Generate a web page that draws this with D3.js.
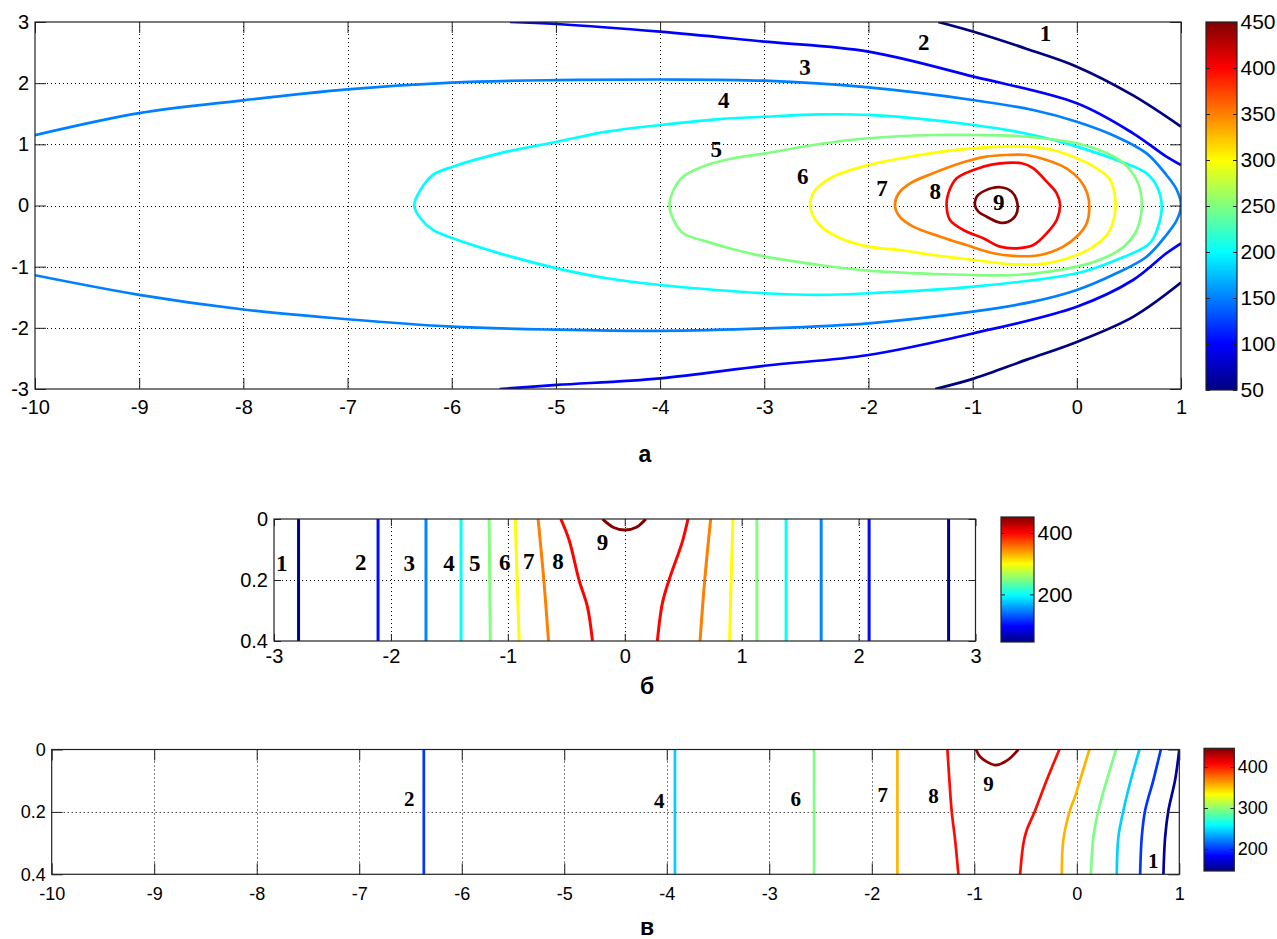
<!DOCTYPE html>
<html lang="ru">
<head>
<meta charset="UTF-8">
<script src="https://cdn.jsdelivr.net/npm/d3@7"></script>
<title>contours</title>
<style>
  body { margin: 0; background: #fff; }
  text { font-family: "Liberation Sans", Arial, sans-serif; fill: #000; }
  .num { font-family: "Liberation Serif", "Times New Roman", serif; font-weight: bold; }
  .ttl { font-weight: bold; }
</style>
</head>
<body>
<script>
// ---------- panel а : plane view, x -10..1, y -3..3 ----------
const aXTicks = [-10, -9, -8, -7, -6, -5, -4, -3, -2, -1, 0, 1];
const aYTicks = [-3, -2, -1, 0, 1, 2, 3];
const aLevels = [50, 100, 150, 200, 250, 300, 350, 400, 450];
const aCbTicks = [50, 100, 150, 200, 250, 300, 350, 400, 450];
// contour lines, [x, y]; each level may have several branches
const a1 = [
  [[-1.33, 3], [-0.99, 2.84], [-0.48, 2.56], [0, 2.27], [0.54, 1.8], [1, 1.29]],
  [[1, -1.26], [0.54, -1.82], [0, -2.23], [-0.48, -2.52], [-0.99, -2.83], [-1.36, -3]]
];
const a2 = [
  [[-5.44, 3], [-4.99, 2.967], [-4.0, 2.842], [-2.99, 2.678], [-2.0, 2.515], [-0.99, 2.106],
   [0, 1.671], [0.54, 1.18], [0.86, 0.798], [1, 0.662]],
  [[1, -0.618], [0.86, -0.781], [0.54, -1.218], [0, -1.654], [-0.99, -2.089], [-2.0, -2.444],
   [-3.0, -2.62], [-4.0, -2.825], [-4.99, -2.934], [-5.54, -3]]
];
const a3 = [
  [[-10, 1.15], [-9, 1.51], [-8, 1.72], [-7, 1.9], [-6, 2.01], [-5, 2.05], [-4, 2.06], [-3, 2.04], [-2.0, 1.93],
   [-1.0, 1.725], [-0.42, 1.561], [0, 1.37], [0.38, 1.125], [0.67, 0.853], [0.86, 0.499], [0.96, 0.254], [1, 0],
   [0.96, -0.237], [0.86, -0.482], [0.67, -0.837], [0.38, -1.108], [0, -1.381], [-0.42, -1.572], [-1.0, -1.736],
   [-2.0, -1.926], [-3, -2.01], [-4, -2.05], [-5, -2.03], [-6, -1.98], [-7, -1.86], [-8, -1.7], [-9, -1.46], [-10, -1.14]]
];
const a4 = [
  [[-6.36, 0], [-6.3, 0.254], [-6.18, 0.5], [-5.99, 0.635], [-5.54, 0.853], [-4.99, 1.043], [-4.51, 1.207],
   [-4.0, 1.316], [-3.46, 1.409], [-2.99, 1.452], [-2.47, 1.49], [-2.0, 1.48], [-0.99, 1.316], [-0.42, 1.153],
   [0, 0.962], [0.38, 0.744], [0.67, 0.526], [0.77, 0.308], [0.815, 0], [0.78, -0.346], [0.7, -0.618],
   [0.38, -0.891], [0, -1.108], [-0.99, -1.326], [-2.0, -1.435], [-2.47, -1.46], [-2.99, -1.435], [-3.46, -1.381],
   [-4.0, -1.3], [-4.51, -1.19], [-4.99, -1.027], [-5.54, -0.782], [-5.99, -0.536], [-6.18, -0.4], [-6.3, -0.209]]
];
const a5 = [
  [[-3.91, 0], [-3.87, 0.254], [-3.78, 0.471], [-3.55, 0.662], [-3.3, 0.771], [-2.99, 0.853], [-2.47, 1.005],
   [-2.0, 1.099], [-1.38, 1.153], [-0.99, 1.153], [-0.58, 1.136], [0, 1.017], [0.29, 0.853], [0.45, 0.69],
   [0.575, 0.417], [0.623, 0.09], [0.613, -0.183], [0.56, -0.454], [0.45, -0.673], [0.29, -0.837], [0, -1.0],
   [-0.58, -1.136], [-0.99, -1.136], [-1.38, -1.12], [-2.0, -1.066], [-2.47, -0.973], [-2.99, -0.837],
   [-3.3, -0.716], [-3.55, -0.591], [-3.78, -0.454], [-3.87, -0.237]]
];
const a6 = [
  [[-2.56, 0], [-2.51, 0.254], [-2.34, 0.471], [-2.0, 0.662], [-1.6, 0.798], [-1.22, 0.896], [-0.87, 0.951],
   [-0.48, 0.962], [-0.23, 0.907], [0, 0.771], [0.19, 0.608], [0.32, 0.417], [0.37, 0.09], [0.36, -0.183],
   [0.3, -0.454], [0.16, -0.673], [0, -0.809], [-0.29, -0.945], [-0.61, -0.962], [-0.99, -0.891], [-1.38, -0.809],
   [-1.7, -0.727], [-2.0, -0.673], [-2.27, -0.536], [-2.47, -0.319]]
];
const a7 = [
  [[-1.745, 0], [-1.71, 0.199], [-1.6, 0.363], [-1.38, 0.526], [-1.12, 0.69], [-0.87, 0.798], [-0.67, 0.826],
   [-0.48, 0.826], [-0.29, 0.744], [-0.1, 0.608], [0.03, 0.417], [0.1, 0.199], [0.12, -0.02], [0.095, -0.29],
   [0.015, -0.482], [-0.13, -0.673], [-0.35, -0.809], [-0.61, -0.825], [-0.8, -0.781], [-1.06, -0.646],
   [-1.31, -0.51], [-1.57, -0.346], [-1.7, -0.183]]
];
const a8 = [
  [[-1.25, 0], [-1.233, 0.199], [-1.153, 0.445], [-0.897, 0.635], [-0.737, 0.69], [-0.529, 0.69], [-0.417, 0.608],
   [-0.289, 0.389], [-0.193, 0.2], [-0.161, 0.008], [-0.193, -0.237], [-0.289, -0.454], [-0.417, -0.646],
   [-0.577, -0.7], [-0.737, -0.673], [-0.897, -0.536], [-1.089, -0.4], [-1.217, -0.237]]
];
const a9 = [
  [[-0.977, 0], [-0.961, 0.144], [-0.881, 0.243], [-0.737, 0.298], [-0.625, 0.226], [-0.571, 0.036],
   [-0.584, -0.155], [-0.658, -0.265], [-0.737, -0.281], [-0.865, -0.183], [-0.945, -0.101]]
];
const aClosed = [false, false, false, true, true, true, true, true, true];
const aLabels = [[-0.3, 2.815], [-1.47, 2.68], [-2.61, 2.27], [-3.39, 1.725], [-3.46, 0.92],
                 [-2.63, 0.48], [-1.87, 0.28], [-1.36, 0.23], [-0.75, 0.06]];

// ---------- panel б : cross-section, x -3..3, depth 0..0.4 ----------
const bXTicks = [-3, -2, -1, 0, 1, 2, 3];
const bYTicks = [0, 0.2, 0.4];
const bLevels = [50, 100, 150, 200, 250, 300, 350, 400, 450];
const bCbTicks = [200, 400];
const b1 = [[[-2.79, 0], [-2.79, 0.4]], [[2.77, 0], [2.77, 0.4]]];
const b2 = [[[-2.11, 0], [-2.11, 0.4]], [[2.09, 0], [2.09, 0.4]]];
const b3 = [[[-1.7, 0], [-1.7, 0.4]], [[1.68, 0], [1.68, 0.4]]];
const b4 = [[[-1.4, 0], [-1.4, 0.4]], [[1.38, 0], [1.38, 0.4]]];
const b5 = [[[-1.16, 0], [-1.155, 0.2], [-1.15, 0.4]], [[1.13, 0], [1.13, 0.4]]];
const b6 = [[[-0.937, 0], [-0.92, 0.2], [-0.903, 0.4]], [[0.926, 0], [0.91, 0.2], [0.897, 0.4]]];
const b7 = [[[-0.741, 0], [-0.692, 0.2], [-0.652, 0.4]], [[0.735, 0], [0.684, 0.2], [0.644, 0.4]]];
const b8 = [
  [[-0.547, 0], [-0.476, 0.069], [-0.391, 0.2], [-0.319, 0.288], [-0.276, 0.4]],
  [[0.541, 0], [0.493, 0.074], [0.379, 0.2], [0.322, 0.276], [0.279, 0.4]]
];
const b9 = [[[-0.19, 0], [-0.1, 0.027], [0, 0.036], [0.1, 0.027], [0.18, 0]]];
const bLabels = [[-2.934, 0.145], [-2.259, 0.141], [-1.843, 0.145], [-1.504, 0.143], [-1.282, 0.143],
                 [-1.026, 0.141], [-0.821, 0.137], [-0.57, 0.137], [-0.191, 0.074]];

// ---------- panel в : longitudinal section, x -10..1, depth 0..0.4 ----------
const vXTicks = [-10, -9, -8, -7, -6, -5, -4, -3, -2, -1, 0, 1];
const vYTicks = [0, 0.2, 0.4];
const vCbTicks = [200, 300, 400];
const vNames = ["1", "2", "4", "6", "7", "8", "9"];
const vLevels = [155, 200, 245, 295, 355, 405, 440];
const v1 = [[[1.0, 0], [0.959, 0.098], [0.894, 0.195], [0.862, 0.28], [0.845, 0.4]]];
const v2 = [[[-6.37, 0], [-6.37, 0.4]], [[0.82, 0], [0.747, 0.098], [0.667, 0.195], [0.634, 0.28], [0.618, 0.4]]];
const v4 = [[[-3.92, 0], [-3.92, 0.4]], [[0.611, 0], [0.527, 0.098], [0.455, 0.195], [0.406, 0.28], [0.39, 0.4]]];
const v6 = [[[-2.563, 0], [-2.563, 0.4]], [[0.383, 0], [0.293, 0.098], [0.211, 0.195], [0.162, 0.28], [0.137, 0.4]]];
const v7 = [[[-1.75, 0], [-1.75, 0.4]],
            [[0.123, 0], [0.032, 0.098], [-0.017, 0.151], [-0.066, 0.194], [-0.131, 0.288], [-0.146, 0.4]]];
const v8 = [
  [[-1.262, 0], [-1.243, 0.098], [-1.22, 0.199], [-1.187, 0.29], [-1.155, 0.4]],
  [[-0.17, 0], [-0.293, 0.098], [-0.407, 0.196], [-0.488, 0.258], [-0.52, 0.3], [-0.553, 0.4]]
];
const v9 = [[[-0.982, 0], [-0.943, 0.023], [-0.797, 0.05], [-0.683, 0.036], [-0.57, 0]]];
const vLabels = [[0.747, 0.357], [-6.511, 0.156], [-4.072, 0.164], [-2.741, 0.156],
                 [-1.893, 0.146], [-1.399, 0.149], [-0.862, 0.108]];

// MATLAB "jet"
function jet(t) {
  t = Math.max(0, Math.min(1, t));
  const c = v => Math.round(255 * Math.max(0, Math.min(1, v)));
  return "rgb(" + c(Math.min(4 * t - 1.5, -4 * t + 4.5)) + "," +
                  c(Math.min(4 * t - 0.5, -4 * t + 3.5)) + "," +
                  c(Math.min(4 * t + 0.5, -4 * t + 2.5)) + ")";
}

const svg = d3.select("body").append("svg").attr("width", 1277).attr("height", 939);
const defs = svg.append("defs");

function drawPanel(p) {
  const x = d3.scaleLinear().domain(p.xDomain).range([p.left, p.right]);
  const y = d3.scaleLinear().domain(p.yDomain).range([p.bottom, p.top]);
  const color = d3.scaleSequential(jet).domain(p.cb.domain);
  const g = svg.append("g");

  defs.append("clipPath").attr("id", "clip-" + p.id)
    .append("rect").attr("x", p.left).attr("y", p.top)
    .attr("width", p.right - p.left).attr("height", p.bottom - p.top);

  // dotted grid
  const inX = p.xTicks.filter(v => v > Math.min(...p.xDomain) && v < Math.max(...p.xDomain));
  const inY = p.yTicks.filter(v => v > Math.min(...p.yDomain) && v < Math.max(...p.yDomain));
  g.selectAll(".gx").data(inX).join("line")
    .attr("x1", d => Math.round(x(d)) + 0.5).attr("x2", d => Math.round(x(d)) + 0.5)
    .attr("y1", p.top).attr("y2", p.bottom)
    .attr("stroke", "#000").attr("stroke-width", 1).attr("stroke-dasharray", "1,3");
  g.selectAll(".gy").data(inY).join("line")
    .attr("y1", d => Math.round(y(d)) + 0.5).attr("y2", d => Math.round(y(d)) + 0.5)
    .attr("x1", p.left).attr("x2", p.right)
    .attr("stroke", "#000").attr("stroke-width", 1).attr("stroke-dasharray", "1,3");

  // contour lines
  const lineOpen = d3.line().x(d => x(d[0])).y(d => y(d[1])).curve(d3.curveCatmullRom);
  const lineClosed = d3.line().x(d => x(d[0])).y(d => y(d[1])).curve(d3.curveCatmullRomClosed);
  const cg = g.append("g").attr("clip-path", "url(#clip-" + p.id + ")");
  p.lines.forEach((branches, i) => {
    branches.forEach(pts => {
      cg.append("path")
        .attr("d", (p.closed && p.closed[i]) ? lineClosed(pts) : lineOpen(pts))
        .attr("fill", "none")
        .attr("stroke", color(p.levels[i]))
        .attr("stroke-width", p.lineWidth)
        .attr("stroke-linejoin", "round");
    });
  });

  // axes, ticks inside
  const bottomAxis = d3.axisBottom(x).tickValues(p.xTicks).tickSize(-p.tickLen)
    .tickPadding(p.xPad).tickFormat(d => String(d));
  const topAxis = d3.axisTop(x).tickValues(p.xTicks).tickSize(-p.tickLen).tickFormat("");
  const leftAxis = d3.axisLeft(y).tickValues(p.yTicks).tickSize(-p.tickLen)
    .tickPadding(6).tickFormat(d => String(d));
  const rightAxis = d3.axisRight(y).tickValues(p.yTicks).tickSize(-p.tickLen).tickFormat("");

  const styleAxis = sel => {
    sel.select(".domain").remove();
    sel.attr("font-size", p.fontSize).attr("font-family", '"Liberation Sans", Arial, sans-serif');
    sel.selectAll(".tick line").attr("stroke", "#222");
    sel.selectAll("text").style("font-size", p.fontSize + "px").attr("fill", "#000");
  };
  g.append("g").attr("transform", `translate(0,${p.bottom})`).call(bottomAxis).call(styleAxis);
  g.append("g").attr("transform", `translate(0,${p.top})`).call(topAxis).call(styleAxis);
  g.append("g").attr("transform", `translate(${p.left},0)`).call(leftAxis).call(styleAxis);
  g.append("g").attr("transform", `translate(${p.right},0)`).call(rightAxis).call(styleAxis);

  g.append("rect").attr("x", p.left).attr("y", p.top)
    .attr("width", p.right - p.left).attr("height", p.bottom - p.top)
    .attr("fill", "none").attr("stroke", "#222").attr("stroke-width", 1.2);

  // contour numbers
  g.selectAll(".num").data(p.labels).join("text")
    .attr("class", "num")
    .attr("x", d => x(d[0])).attr("y", d => y(d[1]))
    .attr("text-anchor", "middle").attr("dy", "0.35em")
    .style("font-size", p.labelSize + "px")
    .text((d, i) => p.names ? p.names[i] : String(i + 1));

  // colorbar
  const cb = p.cb;
  const yc = d3.scaleLinear().domain(cb.domain).range([cb.bottom, cb.top]);
  const grad = defs.append("linearGradient").attr("id", "grad-" + p.id)
    .attr("x1", 0).attr("y1", 1).attr("x2", 0).attr("y2", 0);
  d3.range(0, 1.0001, 1 / 32).forEach(t => {
    grad.append("stop").attr("offset", t)
      .attr("stop-color", color(cb.domain[0] + t * (cb.domain[1] - cb.domain[0])));
  });
  g.append("rect").attr("x", cb.left).attr("y", cb.top)
    .attr("width", cb.right - cb.left).attr("height", cb.bottom - cb.top)
    .attr("fill", "url(#grad-" + p.id + ")").attr("stroke", "#222").attr("stroke-width", 1.2);
  const cbStyle = sel => {
    sel.select(".domain").remove();
    sel.selectAll(".tick line").attr("stroke", "#222");
    sel.selectAll("text").style("font-size", cb.fontSize + "px").attr("fill", "#000");
  };
  g.append("g").attr("transform", `translate(${cb.right},0)`)
    .call(d3.axisRight(yc).tickValues(cb.ticks).tickSize(-4).tickPadding(3.5).tickFormat(d => String(d)))
    .call(cbStyle);
  g.append("g").attr("transform", `translate(${cb.left},0)`)
    .call(d3.axisLeft(yc).tickValues(cb.ticks).tickSize(-4).tickFormat(""))
    .call(cbStyle);

  // panel letter
  g.append("text").attr("class", "ttl").attr("x", p.title.x).attr("y", p.title.y)
    .attr("text-anchor", "middle").style("font-size", "23px").text(p.title.text);
}

drawPanel({
  id: "a", left: 35, right: 1181, top: 22, bottom: 389,
  xDomain: [-10, 1], yDomain: [-3, 3], xTicks: aXTicks, yTicks: aYTicks,
  fontSize: 20, xPad: 11, tickLen: 11, lineWidth: 2.7,
  lines: [a1, a2, a3, a4, a5, a6, a7, a8, a9], closed: aClosed, levels: aLevels,
  labels: aLabels, labelSize: 23,
  cb: { left: 1206, right: 1237, top: 22, bottom: 390, domain: [50, 450], ticks: aCbTicks, fontSize: 21 },
  title: { text: "а", x: 645, y: 462 }
});

drawPanel({
  id: "b", left: 274, right: 975.5, top: 519, bottom: 641,
  xDomain: [-3, 3], yDomain: [0.4, 0], xTicks: bXTicks, yTicks: bYTicks,
  fontSize: 20, xPad: 7.5, tickLen: 7, lineWidth: 3,
  lines: [b1, b2, b3, b4, b5, b6, b7, b8, b9], levels: bLevels,
  labels: bLabels, labelSize: 23,
  cb: { left: 1001, right: 1034, top: 517, bottom: 642, domain: [45, 452], ticks: bCbTicks, fontSize: 21 },
  title: { text: "б", x: 647, y: 694 }
});

drawPanel({
  id: "v", left: 51.7, right: 1179.3, top: 749.5, bottom: 874.3,
  xDomain: [-10, 1], yDomain: [0.4, 0], xTicks: vXTicks, yTicks: vYTicks,
  fontSize: 18, xPad: 12.5, tickLen: 11, lineWidth: 2.7,
  lines: [v1, v2, v4, v6, v7, v8, v9], levels: vLevels,
  labels: vLabels, names: vNames, labelSize: 21,
  cb: { left: 1204, right: 1234.3, top: 748.3, bottom: 871, domain: [147, 445], ticks: vCbTicks, fontSize: 18 },
  title: { text: "в", x: 647, y: 935 }
});
</script>
</body>
</html>
